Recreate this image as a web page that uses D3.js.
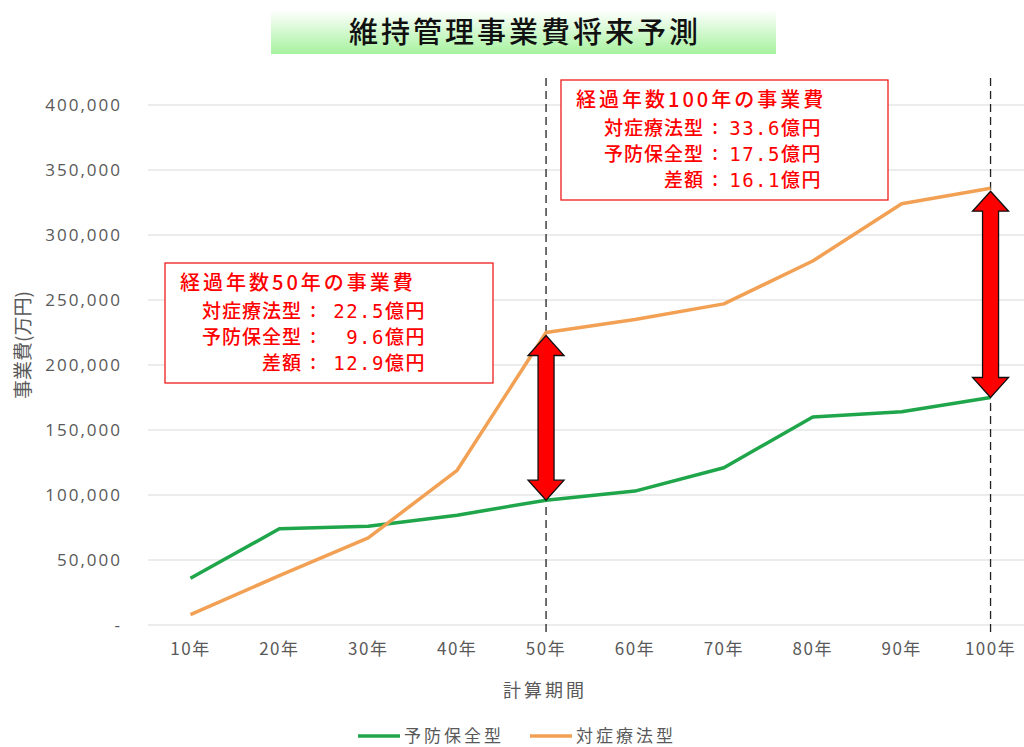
<!DOCTYPE html>
<html>
<head>
<meta charset="utf-8">
<script src="https://cdn.jsdelivr.net/npm/d3@7"></script>
<style>
  body { margin: 0; background: #fff; }
  text { font-family: "Noto Sans CJK JP", "Noto Sans", sans-serif; }
</style>
</head>
<body>
<script>
const width = 1024, height = 747;

// data
const periods = ["10年", "20年", "30年", "40年", "50年", "60年", "70年", "80年", "90年", "100年"];
const yoboValues = [36000, 74000, 76000, 84500, 96000, 103000, 121000, 160000, 164000, 175000];
const taishoValues = [8000, 38000, 67000, 119000, 225000, 235000, 247000, 280000, 324000, 336000];
const yTicks = [0, 50000, 100000, 150000, 200000, 250000, 300000, 350000, 400000];
const seriesNames = ["予防保全型", "対症療法型"];
const seriesColors = ["#1fa64b", "#f2a154"];
const markedPeriods = ["50年", "100年"];
const noteTitles = ["経過年数50年の事業費", "経過年数100年の事業費"];
const noteNames = ["対症療法型", "予防保全型", "差額"];
const noteValues = [["22.5億円", "9.6億円", "12.9億円"], ["33.6億円", "17.5億円", "16.1億円"]];

const svg = d3.select("body").append("svg")
  .attr("width", width)
  .attr("height", height);

// title
const defs = svg.append("defs");
const grad = defs.append("linearGradient").attr("id", "titleGrad")
  .attr("x1", 0).attr("y1", 0).attr("x2", 0).attr("y2", 1);
grad.append("stop").attr("offset", "0%").attr("stop-color", "#ffffff");
grad.append("stop").attr("offset", "100%").attr("stop-color", "#a6f29e");
svg.append("rect").attr("x", 271).attr("y", 10).attr("width", 505).attr("height", 44)
  .attr("fill", "url(#titleGrad)");
svg.append("text").attr("x", 525).attr("y", 43).attr("text-anchor", "middle")
  .attr("font-size", 29).attr("font-weight", 500).attr("letter-spacing", 3).attr("fill", "#111")
  .text("維持管理事業費将来予測");

const x = d3.scaleBand().domain(periods).range([146, 1035]);
const y = d3.scaleLinear().domain([0, 400000]).range([625, 105]);

// grid
svg.append("g").selectAll("line").data(yTicks).join("line")
  .attr("x1", 148).attr("x2", 1024)
  .attr("y1", d => y(d)).attr("y2", d => y(d))
  .attr("stroke", "#d9d9d9").attr("stroke-width", 1);

const yAxis = svg.append("g").attr("transform", "translate(146,0)")
  .call(d3.axisLeft(y).tickValues(yTicks).tickSize(0).tickPadding(24)
    .tickFormat(d => d === 0 ? "-" : d3.format(",")(d)));
yAxis.select(".domain").remove();
yAxis.selectAll("text").attr("font-size", 17).attr("fill", "#595959")
  .attr("letter-spacing", 2)
  .style("font-family", "'Open Sans', 'Noto Sans', sans-serif");

const xAxis = svg.append("g").attr("transform", "translate(0,625)")
  .call(d3.axisBottom(x).tickSize(0).tickPadding(18));
xAxis.select(".domain").remove();
xAxis.selectAll("text").attr("font-size", 17).attr("letter-spacing", 1.5).attr("fill", "#595959");

svg.append("text").attr("x", 545).attr("y", 697).attr("text-anchor", "middle")
  .attr("font-size", 18).attr("letter-spacing", 3).attr("fill", "#595959").text("計算期間");
svg.append("text").attr("transform", "translate(30,345) rotate(-90)")
  .attr("text-anchor", "middle").attr("font-size", 19).attr("fill", "#595959")
  .text("事業費(万円)");

// dashed markers
svg.append("g").selectAll("line").data(markedPeriods).join("line")
  .attr("x1", d => x(d) + x.bandwidth() / 2).attr("x2", d => x(d) + x.bandwidth() / 2)
  .attr("y1", 78).attr("y2", 632)
  .attr("stroke", "#222").attr("stroke-width", 1.3).attr("stroke-dasharray", "8,5");

// lines
const line = d3.line().x((d, i) => x(periods[i]) + x.bandwidth() / 2).y(d => y(d));
[yoboValues, taishoValues].forEach((vals, k) => {
  svg.append("path").datum(vals)
    .attr("d", line)
    .attr("fill", "none")
    .attr("stroke", seriesColors[k])
    .attr("stroke-width", 3.5)
    .attr("stroke-linejoin", "round");
});

// double arrows
markedPeriods.forEach(p => {
  const i = periods.indexOf(p);
  const cx = x(p) + x.bandwidth() / 2;
  const top = y(taishoValues[i]) + 3, bot = y(yoboValues[i]);
  const hw = 18, sw = 8, hh = 20;
  const pts = [
    [cx, top], [cx + hw, top + hh], [cx + sw, top + hh], [cx + sw, bot - hh],
    [cx + hw, bot - hh], [cx, bot], [cx - hw, bot - hh], [cx - sw, bot - hh],
    [cx - sw, top + hh], [cx - hw, top + hh]
  ];
  svg.append("path").attr("d", "M" + pts.join("L") + "Z")
    .attr("fill", "#ff0000").attr("stroke", "#111").attr("stroke-width", 1.3)
    .attr("stroke-linejoin", "miter");
});

// annotation boxes
const boxes = [
  { x: 165, y: 263, w: 328, h: 120, colon: 313, end: 426 },
  { x: 561, y: 80, w: 327, h: 120, colon: 715, end: 822 }
];
boxes.forEach((b, k) => {
  const g = svg.append("g").attr("fill", "#ff0000").attr("font-weight", 500);
  g.append("rect").attr("x", b.x).attr("y", b.y).attr("width", b.w).attr("height", b.h)
    .attr("fill", "#fff").attr("stroke", "#ee1c1c").attr("stroke-width", 1.3);
  g.append("text").attr("x", b.x + 15).attr("y", b.y + 27)
    .attr("font-size", 20).attr("letter-spacing", 3)
    .text(noteTitles[k]);
  noteNames.forEach((n, j) => {
    const by = b.y + 55 + j * 26;
    g.append("text").attr("x", b.colon - 11).attr("y", by).attr("text-anchor", "end")
      .attr("font-size", 19).attr("letter-spacing", 1).text(n);
    g.append("text").attr("x", b.colon).attr("y", by - 1).attr("text-anchor", "middle")
      .attr("font-size", 19).text(":");
    g.append("text").attr("x", b.end).attr("y", by).attr("text-anchor", "end")
      .attr("font-size", 19).attr("letter-spacing", 1.5)
      .style("font-family", "'DejaVu Sans Mono', 'Noto Sans CJK JP', monospace")
      .text(noteValues[k][j]);
  });
});

// legend
const legendX = [358, 530];
seriesNames.forEach((n, k) => {
  svg.append("line").attr("x1", legendX[k]).attr("x2", legendX[k] + 42)
    .attr("y1", 736).attr("y2", 736)
    .attr("stroke", seriesColors[k]).attr("stroke-width", 3.5);
  svg.append("text").attr("x", legendX[k] + 46).attr("y", 742)
    .attr("font-size", 17).attr("letter-spacing", 3).attr("fill", "#595959").text(n);
});
</script>
</body>
</html>
